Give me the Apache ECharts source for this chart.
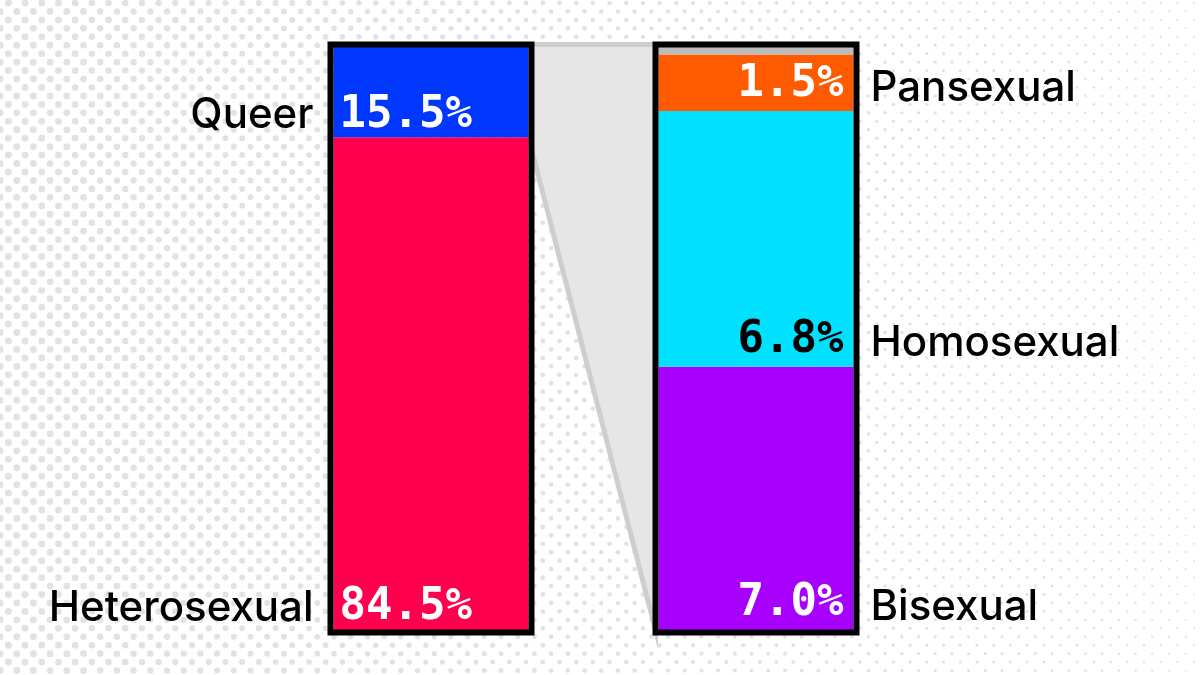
<!DOCTYPE html>
<html><head><meta charset="utf-8">
<script src="https://cdn.jsdelivr.net/npm/echarts@6/dist/echarts.min.js"></script>
<style>
html,body{margin:0;padding:0;background:#fff;overflow:hidden;}
#bg{position:absolute;left:0;top:0;}
#chart{position:absolute;left:0;top:0;width:1200px;height:675px;}
</style></head><body>
<canvas id="bg" width="1200" height="675"></canvas>
<div id="chart"></div>
<script>
// ---- data ----
const barCategories = ['Overall', 'Queer breakdown'];
const overallCategories = ['Heterosexual', 'Queer'];
const overallValues = [84.5, 15.5];
const queerCategories = ['Bisexual', 'Homosexual', 'Pansexual'];
const queerValues = [7.0, 6.8, 1.5];
const queerTotal = 15.5;

// ---- styles ----
const overallColors = ['#FF004F', '#0037FF'];
const queerColors = ['#A800FF', '#00E1FF', '#FF5A00'];
const queerLabelColors = ['#FFFFFF', '#000000', '#FFFFFF'];
const remainderColor = '#BBBBBB';

// decorative halftone background
(function(){
  const ctx = document.getElementById('bg').getContext('2d');
  ctx.fillStyle = '#ffffff'; ctx.fillRect(0,0,1200,675);
  ctx.fillStyle = '#e2e2e2';
  for (let row = 0; row * 8.45 < 690; row++) {
    const y = 3 + row * 8.45;
    const off = (row % 2 === 0) ? 8.35 : 0;
    for (let x = off; x < 1210; x += 16.7) {
      const d = 7 - 4.8 * x / 1200;
      ctx.beginPath(); ctx.arc(x, y, d / 2, 0, Math.PI * 2); ctx.fill();
    }
  }
})();

const valueFont = {fontFamily: 'DejaVu Sans Mono', fontWeight: 'bold', fontSize: 44};
const nameFont = {fontFamily: 'Inter', fontWeight: 500, fontSize: 42, color: '#000'};
const fmt = v => Number(v.value !== undefined ? v.value : v).toFixed(1) + '%';

const series = [];
const BW = '60%';

// connector polygon (behind bars)
series.push({
  type: 'custom', xAxisIndex: 0, yAxisIndex: 0, z: 1, silent: true,
  data: [[0, 100]],
  renderItem: function(params, api){
    const hw = api.size([1, 0])[0] * 0.3;
    const lt = api.coord([0, 100]);
    const lb = api.coord([0, overallValues[0]]);
    const rb = api.coord([1, 0]);
    const rt = api.coord([1, 100]);
    return {type: 'polygon', shape: {points: [
      [lt[0] + hw, lt[1] - 2.5], [lb[0] + hw, lb[1]], [rb[0] - hw - 3, rb[1]], [rt[0] - hw, rt[1] - 2.5]
    ]}, style: {fill: '#e6e6e6', stroke: '#cecece', lineWidth: 5, lineJoin: 'miter'}};
  }
});

// left stacked bar
overallValues.forEach(function(v, i){
  series.push({
    type: 'bar', name: overallCategories[i], stack: 'L', xAxisIndex: 0, yAxisIndex: 0,
    barWidth: BW, barGap: '-100%', z: 2,
    data: [v, '-'],
    itemStyle: {color: overallColors[i]},
    label: Object.assign({show: true, position: 'insideBottomLeft', distance: 6, offset: [0, 6], color: '#fff',
      formatter: p => fmt(p)}, valueFont)
  });
  series.push({
    type: 'bar', stack: 'LN', xAxisIndex: 0, yAxisIndex: 0,
    barWidth: BW, barGap: '-100%', z: 3, silent: true,
    data: [v, '-'],
    itemStyle: {color: 'transparent'},
    label: Object.assign({show: true, position: [-20, '100%'], align: 'right', verticalAlign: 'bottom',
      offset: [0, -1], formatter: overallCategories[i]}, nameFont)
  });
});

// right stacked bar (queer breakdown)
queerValues.forEach(function(v, i){
  series.push({
    type: 'bar', name: queerCategories[i], stack: 'R', xAxisIndex: 0, yAxisIndex: 1,
    barWidth: BW, barGap: '-100%', z: 2,
    data: ['-', v],
    itemStyle: {color: queerColors[i]},
    label: Object.assign({show: true, position: 'insideBottomRight', distance: 10, offset: [0, 6], color: queerLabelColors[i],
      formatter: p => fmt(p)}, valueFont)
  });
  series.push({
    type: 'bar', stack: 'RN', xAxisIndex: 0, yAxisIndex: 1,
    barWidth: BW, barGap: '-100%', z: 3, silent: true,
    data: ['-', v],
    itemStyle: {color: 'transparent'},
    label: Object.assign({show: true, position: ['100%', '100%'], align: 'left', verticalAlign: 'bottom',
      offset: [17, -2], formatter: queerCategories[i]}, nameFont)
  });
});
// unlabelled remainder of the queer share
const queerRemainder = queerTotal - queerValues.reduce((a, b) => a + b, 0);
series.push({
  type: 'bar', stack: 'R', xAxisIndex: 0, yAxisIndex: 1,
  barWidth: BW, barGap: '-100%', z: 2,
  data: ['-', queerRemainder],
  itemStyle: {color: remainderColor}
});

// black outlines (on top)
series.push({
  type: 'custom', xAxisIndex: 0, yAxisIndex: 0, z: 6, silent: true,
  data: [[0, 100], [1, 100]],
  renderItem: function(params, api){
    const i = api.value(0);
    const hw = api.size([1, 0])[0] * 0.3;
    const top = api.coord([i, 100]);
    const bot = api.coord([i, 0]);
    return {type: 'rect', shape: {x: top[0] - hw - 3, y: top[1] - 2.5, width: 2 * hw + 6, height: bot[1] - top[1] + 5},
      style: {fill: 'none', stroke: '#000', lineWidth: 6}};
  }
});

const chart = echarts.init(document.getElementById('chart'), null, {renderer: 'canvas'});
chart.setOption({
  backgroundColor: 'transparent',
  animation: false,
  grid: {left: 268.5, width: 650, top: 47, bottom: 45},
  xAxis: {type: 'category', data: barCategories, show: false},
  yAxis: [
    {type: 'value', min: 0, max: 100, show: false},
    {type: 'value', min: 0, max: queerTotal, show: false}
  ],
  series: series
});
</script>
</body></html>
